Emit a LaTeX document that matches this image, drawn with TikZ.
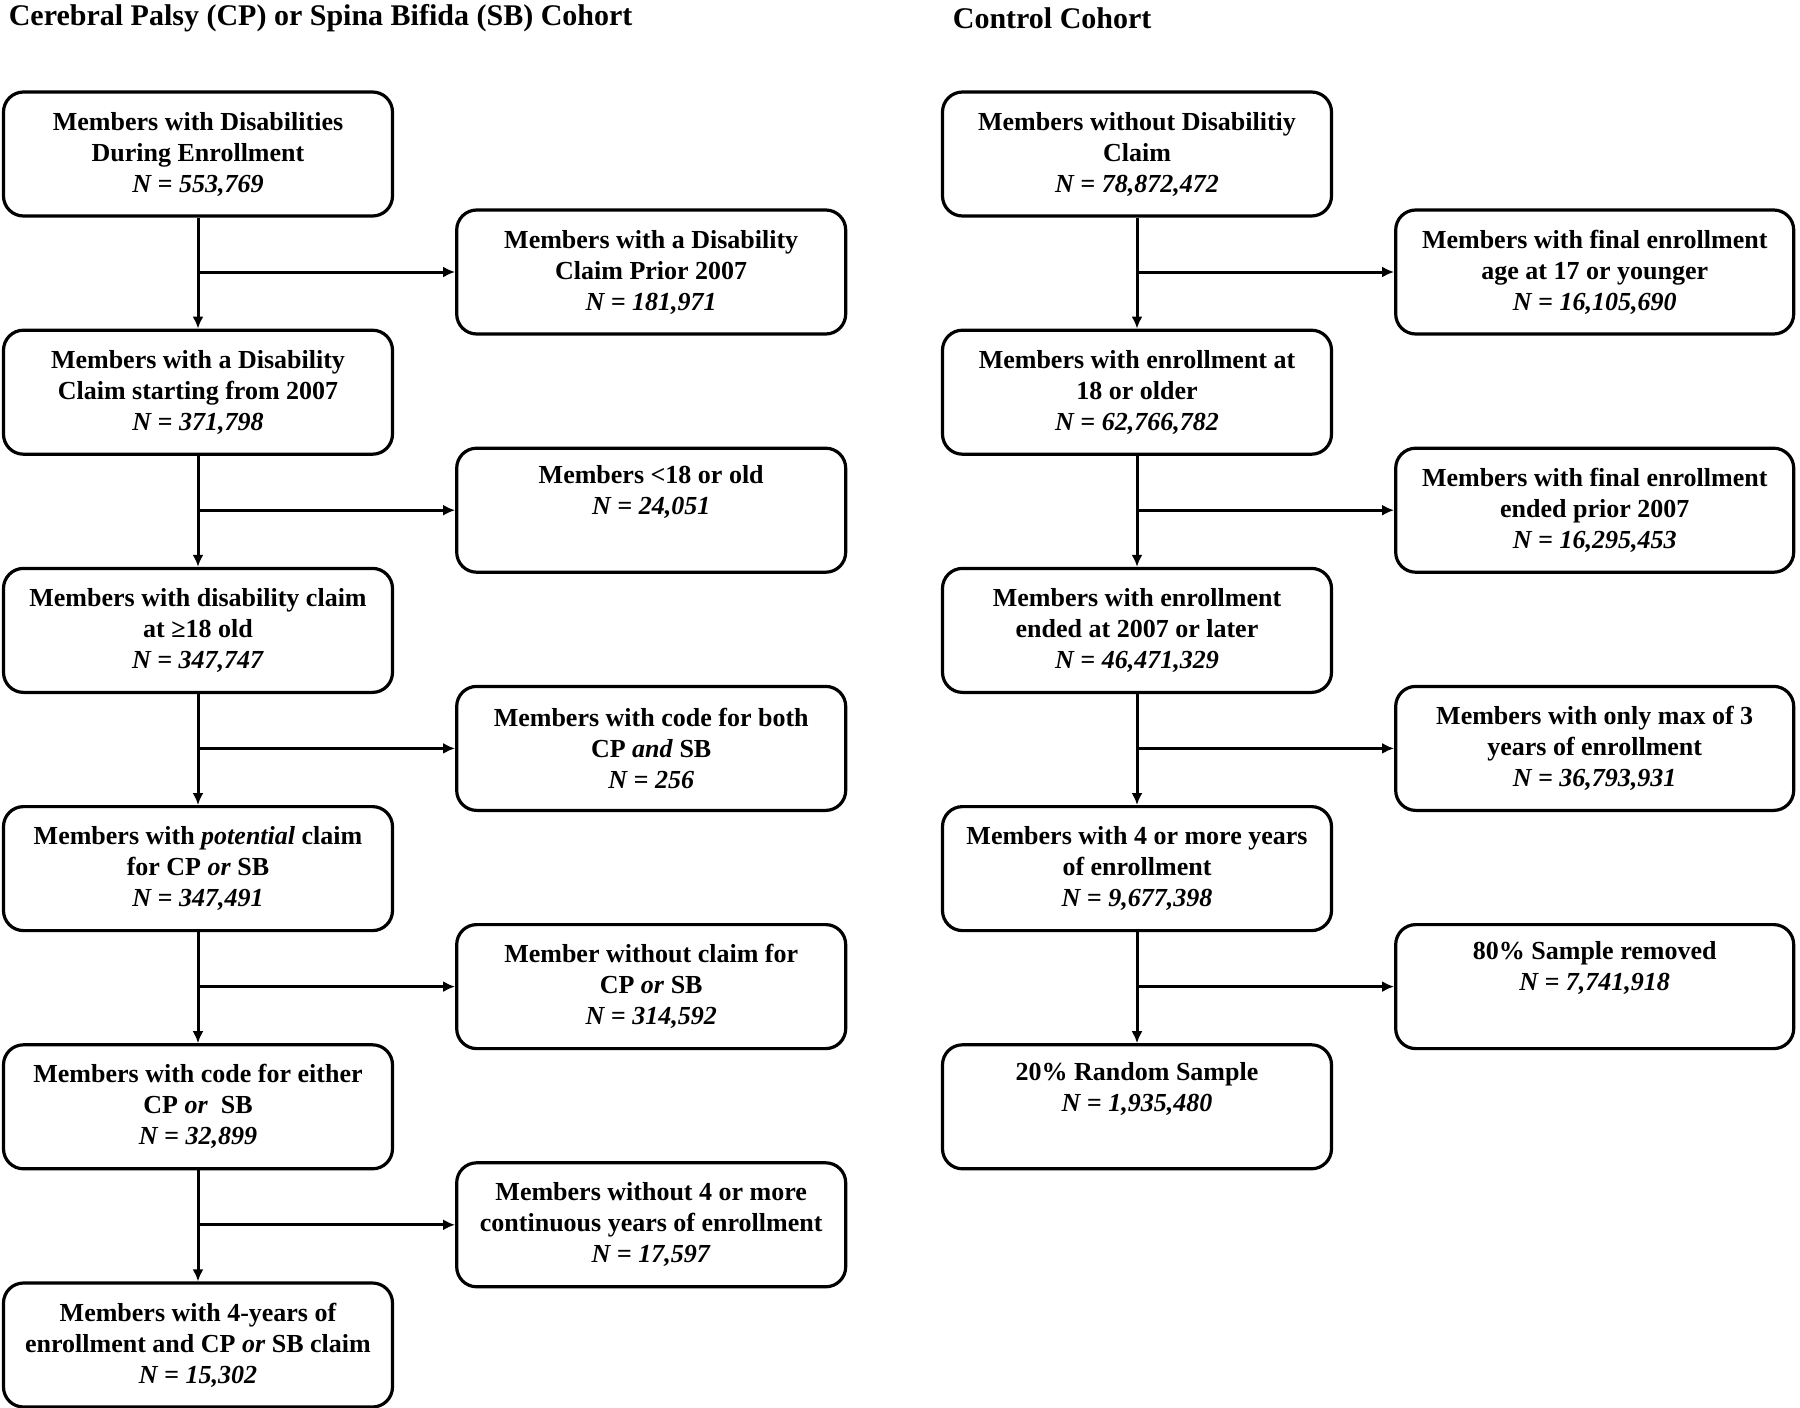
\documentclass[tikz,border=0pt]{standalone}
\usepackage{fontspec}
\setmainfont{Liberation Serif}
\usetikzlibrary{arrows.meta,positioning}
\newcommand{\nval}[1]{\textit{N = #1}}
\begin{document}
\begin{tikzpicture}[->, >={Latex[length=12pt,width=11pt]}, x=1pt, y=-1pt, line width=3pt]
\tikzstyle{every node}=[font=\fontsize{26}{31}\selectfont\bfseries, align=center]
\tikzstyle{box}=[draw, line width=3.2pt, rounded corners=20pt, minimum width=389pt, minimum height=124pt, inner sep=0pt]
\tikzstyle{widebox}=[box, minimum width=398pt]
\tikzstyle{cohort}=[font=\fontsize{30}{36}\selectfont\bfseries, anchor=west]
\useasboundingbox (0,0) rectangle (1800,1408);

% titles
\node[cohort] (tcp)   at (4,18)   {Cerebral Palsy (CP) or Spina Bifida (SB) Cohort};
\node[cohort] (tctrl) at (948,18) {Control Cohort};

% CP / SB cohort
\node[box] (m1) at (198,154) {Members with Disabilities\\ During Enrollment\\ \nval{553,769}};
\node[box] (m2)[below=111pt of m1] {Members with a Disability\\ Claim starting from 2007\\ \nval{371,798}};
\node[box] (m3)[below=111pt of m2] {Members with disability claim\\ at ≥18 old\\ \nval{347,747}};
\node[box] (m4)[below=111pt of m3] {Members with \textit{potential} claim\\ for CP \textit{or} SB\\ \nval{347,491}};
\node[box] (m5)[below=111pt of m4] {Members with code for either\\ CP \textit{or}\ \ SB\\ \nval{32,899}};
\node[box] (m6)[below=111pt of m5] {Members with 4-years of\\ enrollment and CP \textit{or} SB claim\\ \nval{15,302}};

\node[box] (s1)[right=61pt of m1, yshift=-118pt] {Members with a Disability\\ Claim Prior 2007\\ \nval{181,971}};
\node[box] (s2)[right=61pt of m2, yshift=-118pt] {Members <18 or old\\ \nval{24,051}\\ \strut};
\node[box] (s3)[right=61pt of m3, yshift=-118pt] {Members with code for both\\ CP \textit{and} SB\\ \nval{256}};
\node[box] (s4)[right=61pt of m4, yshift=-118pt] {Member without claim for\\ CP \textit{or} SB\\ \nval{314,592}};
\node[box] (s5)[right=61pt of m5, yshift=-118pt] {Members without 4 or more\\ continuous years of enrollment\\ \nval{17,597}};

% control cohort
\node[box] (c1) at (1137,154) {Members without Disabilitiy\\ Claim\\ \nval{78,872,472}};
\node[box] (c2)[below=111pt of c1] {Members with enrollment at\\ 18 or older\\ \nval{62,766,782}};
\node[box] (c3)[below=111pt of c2] {Members with enrollment\\ ended at 2007 or later\\ \nval{46,471,329}};
\node[box] (c4)[below=111pt of c3] {Members with 4 or more years\\ of enrollment\\ \nval{9,677,398}};
\node[box] (c5)[below=111pt of c4] {20\% Random Sample\\ \nval{1,935,480}\\ \strut};

\node[widebox] (d1)[right=61pt of c1, yshift=-118pt] {Members with final enrollment\\ age at 17 or younger\\ \nval{16,105,690}};
\node[widebox] (d2)[right=61pt of c2, yshift=-118pt] {Members with final enrollment\\ ended prior 2007\\ \nval{16,295,453}};
\node[widebox] (d3)[right=61pt of c3, yshift=-118pt] {Members with only max of 3\\ years of enrollment\\ \nval{36,793,931}};
\node[widebox] (d4)[right=61pt of c4, yshift=-118pt] {80\% Sample removed\\ \nval{7,741,918}\\ \strut};

\path
(m1) edge (m2)
(m2) edge (m3)
(m3) edge (m4)
(m4) edge (m5)
(m5) edge (m6)
(m1.south |- s1) edge (s1)
(m2.south |- s2) edge (s2)
(m3.south |- s3) edge (s3)
(m4.south |- s4) edge (s4)
(m5.south |- s5) edge (s5);

\path
(c1) edge (c2)
(c2) edge (c3)
(c3) edge (c4)
(c4) edge (c5)
(c1.south |- d1) edge (d1)
(c2.south |- d2) edge (d2)
(c3.south |- d3) edge (d3)
(c4.south |- d4) edge (d4);
\end{tikzpicture}
\end{document}
